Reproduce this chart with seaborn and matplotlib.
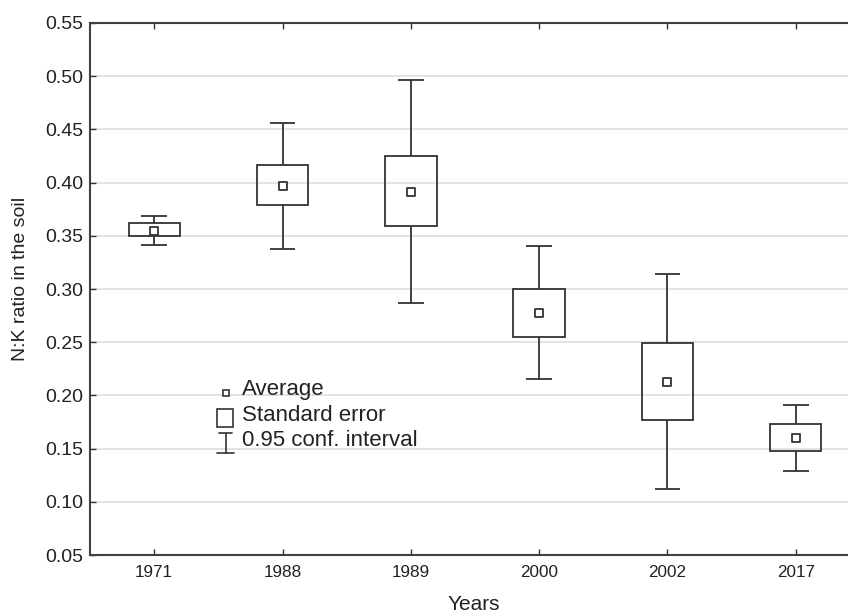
import numpy as np
import pandas as pd
import matplotlib
matplotlib.use("Agg")
import matplotlib.pyplot as plt
import seaborn as sns
from matplotlib.patches import Rectangle

years = ["1971", "1988", "1989", "2000", "2002", "2017"]
means = [0.3548, 0.3970, 0.3909, 0.2772, 0.2123, 0.1597]
se_low = [0.3500, 0.3790, 0.3589, 0.2552, 0.1766, 0.1477]
se_high = [0.3617, 0.4168, 0.4253, 0.3000, 0.2490, 0.1728]
ci_low = [0.3416, 0.3379, 0.2866, 0.2154, 0.1117, 0.1292]
ci_high = [0.3690, 0.4563, 0.4964, 0.3404, 0.3138, 0.1913]
yticks = [0.05, 0.10, 0.15, 0.20, 0.25, 0.30, 0.35, 0.40, 0.45, 0.50, 0.55]

sns.set_theme(style="white")
plt.rcParams['font.family'] = ['Liberation Sans', 'DejaVu Sans']

df = pd.DataFrame({"year": years, "mean": means, "se_lo": se_low, "se_hi": se_high,
                   "ci_lo": ci_low, "ci_hi": ci_high})
df["pos"] = np.arange(len(df))

LC = "#333333"
TC = "#222222"
fig = plt.figure(figsize=(8.48, 6.14), dpi=100)
ax = fig.add_axes([90 / 848, 59 / 614, 770 / 848, 532 / 614])

ax.set_axisbelow(True)
ax.grid(axis="y", color="#dedede", lw=1.2)

# SE boxes
ax.bar(df["pos"], df["se_hi"] - df["se_lo"], bottom=df["se_lo"], width=0.40,
       fill=False, edgecolor=LC, linewidth=1.3, zorder=3)
# whiskers (0.95 CI)
ax.vlines(df["pos"], df["ci_lo"], df["se_lo"], color=LC, lw=1.3, zorder=3)
ax.vlines(df["pos"], df["se_hi"], df["ci_hi"], color=LC, lw=1.3, zorder=3)
ax.hlines(df["ci_lo"], df["pos"] - 0.1, df["pos"] + 0.1, color=LC, lw=1.3, zorder=3)
ax.hlines(df["ci_hi"], df["pos"] - 0.1, df["pos"] + 0.1, color=LC, lw=1.3, zorder=3)
# means
sns.scatterplot(data=df, x="pos", y="mean", marker="s", s=40, facecolor="white",
                edgecolor=LC, linewidth=1.3, zorder=4, ax=ax)

ax.set_xlim(-0.5, 5.5)
ax.set_ylim(0.05, 0.55)
ax.set_xticks(df["pos"])
ax.set_xticklabels(years)
ax.set_yticks(yticks)
ax.set_yticklabels([f"{v:.2f}" for v in yticks])
ax.tick_params(axis="both", direction="in", length=4, width=1, color=LC,
               labelcolor=TC, top=True, left=True, bottom=True)
ax.tick_params(axis="y", pad=5, labelsize=14)
ax.tick_params(axis="x", pad=7, labelsize=12.3)
for s in ax.spines.values():
    s.set_color("#404040")
    s.set_linewidth(1.5)

ax.set_xlabel("Years", fontsize=15, color=TC)
ax.set_ylabel("N:K ratio in the soil", fontsize=14, color=TC)
ax.xaxis.set_label_coords((474 - 90) / 770, (555 - 604) / 532)
ax.xaxis.label.set_va("center")
ax.yaxis.set_label_coords((21 - 90) / 770, (555 - 279) / 532)
ax.yaxis.label.set_va("center")

# legend (key drawn in axes fraction)
def fx(px):
    return (px - 90) / 770
def fy(py):
    return (555 - py) / 532

ax.plot([fx(225.7)], [fy(393)], marker="s", ms=5, mfc="white", mec=LC, mew=1.2,
        transform=ax.transAxes, clip_on=False)
ax.add_patch(Rectangle((fx(217), fy(427)), fx(233) - fx(217), fy(408.7) - fy(427),
                       fill=False, ec=LC, lw=1.2, transform=ax.transAxes))
ax.plot([fx(225.5), fx(225.5)], [fy(433), fy(453)], color=LC, lw=1.2, transform=ax.transAxes)
ax.plot([fx(219), fx(232)], [fy(433), fy(433)], color=LC, lw=1.2, transform=ax.transAxes)
ax.plot([fx(217), fx(234)], [fy(453), fy(453)], color=LC, lw=1.2, transform=ax.transAxes)
for t, py in [("Average", 390), ("Standard error", 416), ("0.95 conf. interval", 441)]:
    ax.text(fx(241.5), fy(py), t, fontsize=16, color=TC, va="center", ha="left",
            transform=ax.transAxes)

fig.savefig("out.png", dpi=100)
